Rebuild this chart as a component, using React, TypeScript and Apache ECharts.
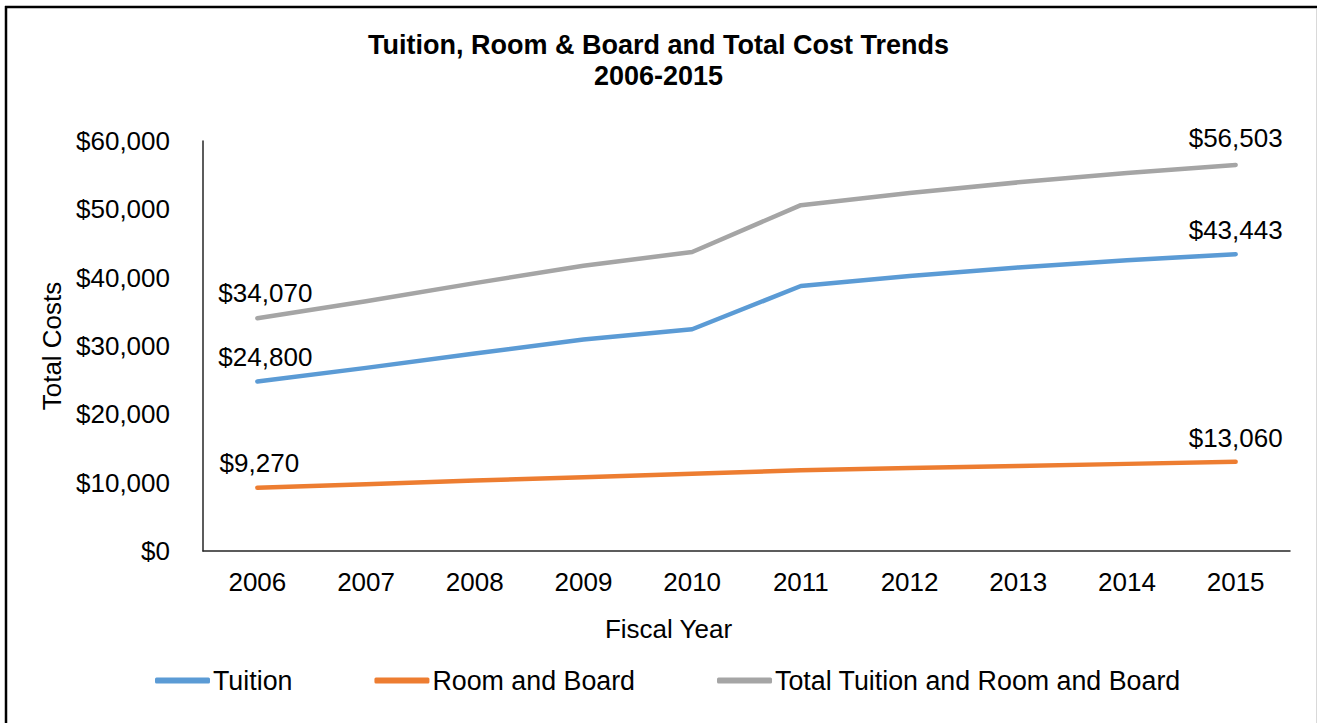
import React, { useEffect, useRef } from "react";
import * as echarts from "echarts";

const years = ["2006", "2007", "2008", "2009", "2010", "2011", "2012", "2013", "2014", "2015"];
const tuition = [24800, 26800, 28900, 30950, 32450, 38780, 40240, 41500, 42550, 43443];
const roomBoard = [9270, 9760, 10300, 10800, 11300, 11830, 12150, 12450, 12750, 13060];
const total = [34070, 36560, 39200, 41750, 43750, 50610, 52390, 53950, 55300, 56503];

const seriesNames = ["Tuition", "Room and Board", "Total Tuition and Room and Board"];
const colors = ["#5B9BD5", "#ED7D31", "#A5A5A5"];

const FONT = "'Liberation Sans', Arial, sans-serif";

const fmt = (v: number) => "$" + v.toLocaleString("en-US");

function withEndLabels(values: number[], firstOffset: number[], lastDistance: number) {
  return values.map((v, i) => {
    if (i === 0 || i === values.length - 1) {
      return {
        value: v,
        label: {
          show: true,
          position: "top",
          distance: i === 0 ? 12 : lastDistance,
          offset: i === 0 ? firstOffset : [0, 0],
          formatter: (p: any) => fmt(p.value),
          fontSize: 26,
          color: "#000",
          fontFamily: FONT,
        },
      };
    }
    return { value: v, label: { show: false } };
  });
}

export default function App() {
  const ref = useRef<HTMLDivElement>(null);

  useEffect(() => {
    if (!ref.current) return;
    const chart = echarts.init(ref.current, undefined, { renderer: "svg" });
    const allData = [tuition, roomBoard, total];
    const offsets = [[8, 0], [2, 0], [8, 0]];
    const lastDist = [11, 11, 14];
    chart.setOption({
      animation: false,
      backgroundColor: "#fff",
      textStyle: { fontFamily: FONT },
      title: {
        text: "Tuition, Room & Board and Total Cost Trends\n2006-2015",
        left: "center",
        top: 24,
        textStyle: {
          fontFamily: FONT,
          fontSize: 27,
          fontWeight: "bold",
          color: "#000",
          lineHeight: 31,
        },
      },
      legend: {
        left: 150,
        top: 662,
        itemWidth: 55,
        itemHeight: 6,
        itemGap: 82,
        icon: "roundRect",
        textStyle: { fontFamily: FONT, fontSize: 26.8, color: "#000", padding: [0, 0, 0, -2] },
        data: seriesNames,
      },
      grid: { left: 203, right: 27, top: 141, bottom: 172, containLabel: false },
      xAxis: {
        type: "category",
        data: years,
        boundaryGap: true,
        name: "Fiscal Year",
        nameLocation: "middle",
        nameGap: 65,
        nameTextStyle: { fontFamily: FONT, fontSize: 26, color: "#000", padding: [0, 156, 0, 0] },
        axisLine: { show: true, lineStyle: { color: "#262626", width: 1.5 } },
        axisTick: { show: false },
        axisLabel: { fontFamily: FONT, fontSize: 26, color: "#000", margin: 18 },
        splitLine: { show: false },
      },
      yAxis: {
        type: "value",
        min: 0,
        max: 60000,
        interval: 10000,
        name: "Total Costs",
        nameLocation: "middle",
        nameGap: 138,
        nameRotate: 90,
        nameTextStyle: { fontFamily: FONT, fontSize: 26, color: "#000" },
        axisLine: { show: true, lineStyle: { color: "#262626", width: 1.5 } },
        axisTick: { show: false },
        axisLabel: { fontFamily: FONT, fontSize: 26, color: "#000", margin: 33, formatter: (v: number) => fmt(v) },
        splitLine: { show: false },
      },
      graphic: [
        { type: "line", shape: { x1: 5, y1: 7, x2: 1317, y2: 7 }, style: { stroke: "#000", lineWidth: 2.5 } },
        { type: "line", shape: { x1: 6, y1: 6, x2: 6, y2: 723 }, style: { stroke: "#000", lineWidth: 2.5 } },
        { type: "line", shape: { x1: 1316.5, y1: 9, x2: 1316.5, y2: 723 }, style: { stroke: "#d9d9d9", lineWidth: 1 } },
      ],
      series: seriesNames.map((name, i) => ({
        name,
        type: "line",
        data: withEndLabels(allData[i], offsets[i], lastDist[i]),
        symbol: "circle",
        symbolSize: 0,
        showSymbol: true,
        lineStyle: { color: colors[i], width: 4.5, cap: "round", join: "round" },
        itemStyle: { color: colors[i] },
        z: 2,
      })),
    });
    return () => chart.dispose();
  }, []);

  return (
    <div
      ref={ref}
      style={{ position: "fixed", left: 0, top: 0, width: 1317, height: 723 }}
    />
  );
}
